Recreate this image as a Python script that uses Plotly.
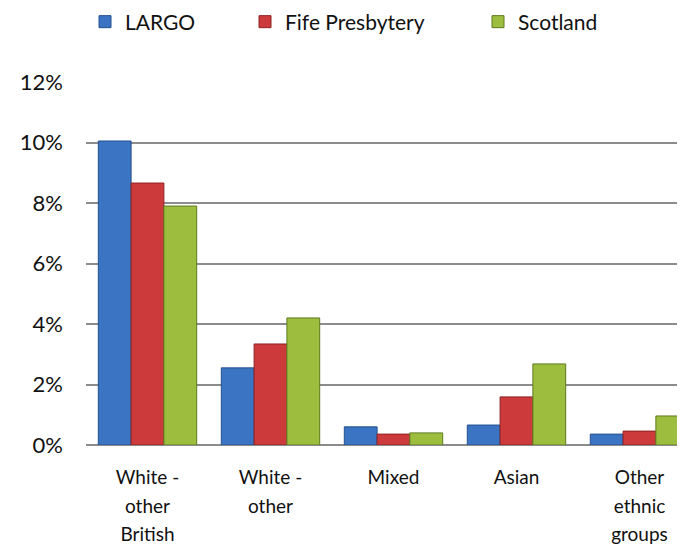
import plotly.graph_objects as go

categories = ["White -<br>other<br>British", "White -<br>other", "Mixed", "Asian", "Other<br>ethnic<br>groups"]
largo = [10.05, 2.55, 0.6, 0.66, 0.36]
fife = [8.66, 3.34, 0.36, 1.59, 0.46]
scotland = [7.9, 4.2, 0.4, 2.68, 0.96]
y_ticks = [0, 2, 4, 6, 8, 10, 12]
y_tick_labels = ["0%", "2%", "4%", "6%", "8%", "10%", "12%"]

FONT = "Lato"
W, H = 685, 548
OFF = 8  # page body margin offset


def sized(label, px):
    return "<br>".join(f'<span style="font-size:{px}px">{p}</span>' for p in label.split("<br>"))


series = [
    ("LARGO", largo, "#3B74C2", "#24508C", "legend", 98),
    ("Fife Presbytery", fife, "#CC3A3B", "#8E2224", "legend2", 258),
    ("Scotland", scotland, "#9DBD3F", "#5E7A1E", "legend3", 491),
]

fig = go.Figure()
for name, vals, col, edge, leg, _ in series:
    fig.add_trace(go.Bar(
        x=list(range(len(categories))), y=vals, name=name,
        marker=dict(color=col, line=dict(color=edge, width=1)),
        legend=leg,
    ))

legend_common = dict(orientation="h", xref="container", yref="container",
                      yanchor="middle", xanchor="left", borderwidth=0,
                      bgcolor="rgba(0,0,0,0)",
                      font=dict(family=FONT, size=21, color="#111"))
layout_legends = {}
for name, vals, col, edge, leg, px in series:
    layout_legends[leg] = dict(legend_common, x=(px - 21) / W, y=1 - 14 / H)

fig.update_layout(
    width=W, height=H,
    margin=dict(l=86 - OFF, r=OFF, t=82 - OFF, b=103 + OFF, autoexpand=False),
    paper_bgcolor="white", plot_bgcolor="white",
    barmode="group", bargap=0.2, bargroupgap=0,
    font=dict(family=FONT, size=18, color="#111"),
    showlegend=True,
    **layout_legends,
)
fig.update_xaxes(
    range=[-0.5, 4.37], tickmode="array",
    tickvals=list(range(len(categories))),
    ticktext=[sized(c, 19) for c in categories],
    showgrid=False, showline=False, zeroline=False, ticks="",
    ticklabelstandoff=16,
    tickfont=dict(family=FONT, size=22, color="#111"),
)
fig.update_yaxes(
    range=[0, 12], tickmode="array", tickvals=y_ticks, ticktext=y_tick_labels,
    showgrid=True, gridcolor="#8C8C8C", gridwidth=1.5,
    zeroline=True, zerolinecolor="#8C8C8C", zerolinewidth=1.5,
    showline=False, ticks="", ticklabelstandoff=22,
    tickfont=dict(family=FONT, size=22, color="#111"),
)

fig.write_html("out.html")
